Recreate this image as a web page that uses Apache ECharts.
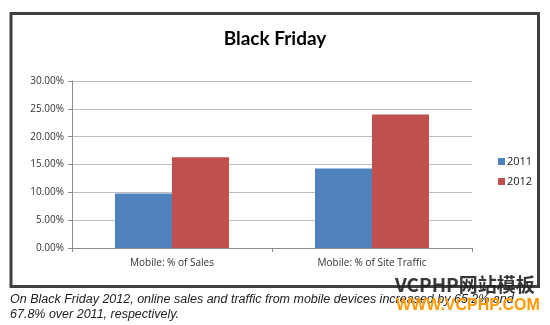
<!DOCTYPE html>
<html>
<head>
<meta charset="utf-8">
<script src="https://cdn.jsdelivr.net/npm/echarts@6/dist/echarts.min.js"></script>
<style>
  html, body { margin: 0; padding: 0; background: #fff; }
  #chart { width: 550px; height: 325px; }
</style>
</head>
<body>
<div id="chart"></div>
<script>
// Mobile share of Black Friday online activity
const categories = ['Mobile: % of Sales', 'Mobile: % of Site Traffic'];
const series2011 = [9.8, 14.3];
const series2012 = [16.3, 24.0];
const yTicks = [0, 5, 10, 15, 20, 25, 30];

const caption1 = 'On Black Friday 2012, online sales and traffic from mobile devices increased by 65.2% and';
const caption2 = '67.8% over 2011, respectively.';

const chart = echarts.init(document.getElementById('chart'), null, { renderer: 'canvas' });

const labelFont = '"Open Sans", "Liberation Sans", sans-serif';

chart.setOption({
  animation: false,
  backgroundColor: '#ffffff',
  title: {
    text: 'Black Friday',
    left: 'center',
    top: 24,
    textStyle: { fontFamily: 'Lato, "Open Sans", sans-serif', fontSize: 19, fontWeight: 'bold', color: '#000' }
  },
  legend: {
    orient: 'vertical',
    left: 493,
    top: 151,
    itemWidth: 7,
    itemHeight: 7,
    itemGap: 9,
    icon: 'rect',
    textStyle: { fontFamily: labelFont, fontSize: 11, color: '#222', padding: [0, 0, 0, -3] },
    data: ['2011', '2012']
  },
  grid: { left: 72, right: 78, top: 81, bottom: 77 },
  xAxis: {
    type: 'category',
    data: categories,
    axisLine: { lineStyle: { color: '#8c8c8c', width: 1 } },
    axisTick: { show: true, length: 4, lineStyle: { color: '#8c8c8c' } },
    axisLabel: { fontFamily: labelFont, fontSize: 10, color: '#333', margin: 10 }
  },
  yAxis: {
    type: 'value',
    min: yTicks[0],
    max: yTicks[yTicks.length - 1],
    interval: 5,
    axisLine: { show: true, lineStyle: { color: '#8c8c8c' } },
    axisTick: { show: true, length: 4, lineStyle: { color: '#8c8c8c' } },
    splitLine: { lineStyle: { color: '#bdbdbd' } },
    axisLabel: {
      fontFamily: labelFont, fontSize: 10, color: '#333', margin: 8,
      formatter: v => v.toFixed(2) + '%'
    }
  },
  series: [
    {
      name: '2011', type: 'bar', data: series2011,
      barWidth: 57, barGap: '0%',
      itemStyle: { color: '#4f81bd' }
    },
    {
      name: '2012', type: 'bar', data: series2012,
      barWidth: 57, barGap: '0%',
      itemStyle: { color: '#c0504d' }
    }
  ],
  graphic: [
    {
      type: 'rect',
      shape: { x: 11, y: 13.5, width: 527.5, height: 273 },
      style: { fill: 'none', stroke: '#404040', lineWidth: 3 },
      z: 10
    },
    {
      type: 'text', left: 10, top: 293,
      style: { text: caption1, font: 'italic 12.5px "Liberation Sans", Arial, sans-serif', fill: '#222' }
    },
    {
      type: 'text', left: 10, top: 308,
      style: { text: caption2, font: 'italic 12.5px "Liberation Sans", Arial, sans-serif', fill: '#222' }
    },
    {
      type: 'text', left: 395, top: 275,
      style: { text: 'VCPHP网站模板', font: 'bold 19px "Noto Sans CJK SC", "Liberation Sans", sans-serif', fill: '#222', opacity: 0.9 },
      z: 20
    },
    {
      type: 'text', left: 396, top: 298,
      style: { text: 'WWW.VCPHP.COM', font: 'bold 16px "Liberation Sans", Arial, sans-serif', fill: '#ff9900' },
      z: 20
    }
  ]
});
</script>
</body>
</html>
